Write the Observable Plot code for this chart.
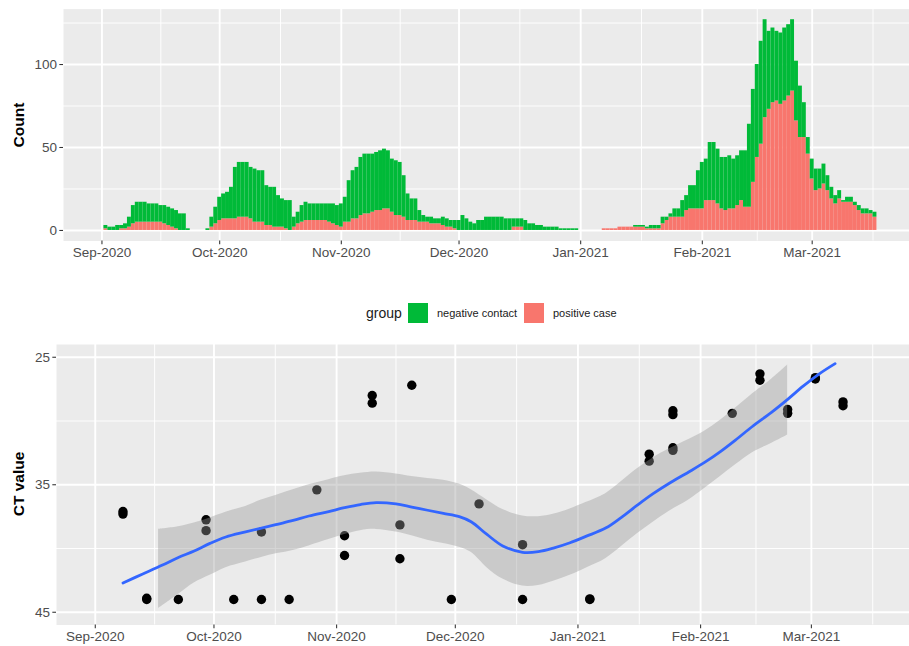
<!DOCTYPE html>
<html>
<head>
<meta charset="utf-8">
<script src="https://cdn.jsdelivr.net/npm/d3@7"></script>
<script src="https://cdn.jsdelivr.net/npm/@observablehq/plot@0.6"></script>
<style>
  body { margin: 0; background: #fff; font-family: "Liberation Sans", Arial, sans-serif; }
  #wrap { position: relative; width: 909px; height: 646px; overflow: hidden; background: #fff; }
  #top, #bottom { position: absolute; left: 0; }
  #top { top: 0; }
  #bottom { top: 290px; }
  .ytitle { position: absolute; font-weight: bold; font-size: 15.5px; color: #000;
            transform: translate(-50%, -50%) rotate(-90deg); white-space: nowrap; }
  .lgtext { position: absolute; top: 303px; height: 20px; line-height: 20px; color: #1a1a1a; white-space: nowrap; }
  .lgkey { position: absolute; top: 303px; width: 20px; height: 20px; }
</style>
</head>
<body>
<div id="wrap">
  <div id="top"></div>
  <div id="bottom"></div>
  <div class="ytitle" style="left:19px; top:125px;">Count</div>
  <div class="ytitle" style="left:19px; top:484px;">CT value</div>
  <div class="lgtext" style="left:366px; font-size:14px;">group</div>
  <div class="lgkey" id="key0" style="left:408px;"></div>
  <div class="lgtext" id="lab0" style="left:437px; font-size:11px;"></div>
  <div class="lgkey" id="key1" style="left:524px;"></div>
  <div class="lgtext" id="lab1" style="left:553px; font-size:11px;"></div>
</div>
<script>
// ---------- data: daily counts (Sep 2, 2020 .. Mar 17, 2021) ----------
const barStart = "2020-09-02";
const positiveCase = [
  // Sep 2-30
  1,0,0,0,1,1,2,4,5,5,5,5,5,5,5,4,3,2,1,0,0,0,0,0,0,0,0,2,4,
  // Oct
  6,7,7,7,7,8,8,8,7,5,5,5,3,3,2,2,2,1,0,2,4,5,6,6,6,6,6,6,5,4,3,
  // Nov
  2,5,5,7,7,9,10,10,11,12,12,13,13,11,9,9,8,6,6,6,5,5,5,4,4,4,3,2,2,1,
  // Dec
  0,0,0,0,0,0,0,0,0,0,0,0,0,0,2,2,2,0,0,0,0,0,0,0,0,0,0,0,0,0,0,
  // Jan
  0,0,0,0,0,0,1,1,1,1,2,2,2,2,2,2,2,1,1,1,1,4,6,8,8,8,8,12,13,13,13,
  // Feb
  13,18,18,18,16,13,12,13,13,15,18,14,14,29,44,52,68,73,77,78,76,78,81,84,66,56,56,46,
  // Mar 1-17
  31,24,25,28,24,19,16,19,17,17,17,15,12,10,10,10,8
];
const negativeContact = [
  // Sep 2-30
  2,2,2,3,2,3,6,11,12,12,12,11,11,11,10,11,11,11,11,10,10,1,0,0,0,0,1,6,10,
  // Oct
  14,15,16,19,31,33,33,33,31,32,31,31,24,23,24,19,17,17,18,6,7,10,11,10,10,10,10,10,11,12,12,
  // Nov
  14,15,25,29,31,35,36,36,35,35,36,36,35,32,33,32,25,16,13,13,7,4,3,4,3,3,5,5,4,5,
  // Dec
  6,9,7,5,4,6,6,8,8,8,8,8,7,7,5,5,5,6,4,4,3,3,2,2,2,2,1,1,1,1,1,
  // Jan
  0,0,0,0,0,0,0,0,0,0,0,0,0,0,1,1,1,1,2,2,2,4,2,2,5,5,10,9,14,14,23,
  // Feb
  28,25,35,35,33,31,32,32,30,30,30,34,50,56,56,62,59,47,45,42,43,44,43,43,36,31,21,10,
  // Mar 1-17
  12,13,12,12,9,7,5,5,1,3,3,2,3,3,3,2,3
];
const groups = ["negative contact", "positive case"];
const groupColors = ["#00BA38", "#F8766D"];

// ---------- data: CT values ----------
const ctDates = ["2020-09-08","2020-09-08","2020-09-14","2020-09-14","2020-09-22","2020-09-29","2020-09-29",
  "2020-10-06","2020-10-13","2020-10-13","2020-10-20","2020-10-27","2020-11-03","2020-11-03","2020-11-10",
  "2020-11-10","2020-11-17","2020-11-17","2020-11-20","2020-11-30","2020-12-07","2020-12-18","2020-12-18",
  "2021-01-04","2021-01-04","2021-01-19","2021-01-19","2021-01-25","2021-01-25","2021-01-25","2021-01-25",
  "2021-02-09","2021-02-16","2021-02-16","2021-02-23","2021-02-23","2021-03-02","2021-03-02","2021-03-09","2021-03-09"];
const ctValues = [37.1,37.3,43.9,44.0,44.0,37.75,38.6,
  44.0,44.0,38.7,44.0,35.4,39.0,40.55,28.0,
  28.6,38.15,40.8,27.2,44.0,36.5,39.7,44.0,
  44.0,43.95,32.6,33.15,29.2,29.5,32.1,32.3,
  29.4,26.3,26.8,29.1,29.4,26.6,26.7,28.5,28.8];

// smooth fit
const fitDates = ["2020-09-08","2020-09-13","2020-09-18","2020-09-22","2020-09-26","2020-09-30","2020-10-04",
  "2020-10-09","2020-10-13","2020-10-17","2020-10-21","2020-10-25","2020-10-30","2020-11-03","2020-11-07",
  "2020-11-11","2020-11-16","2020-11-20","2020-11-24","2020-11-28","2020-12-02","2020-12-05","2020-12-09",
  "2020-12-13","2020-12-18","2020-12-22","2020-12-26","2020-12-30","2021-01-03","2021-01-08","2021-01-12",
  "2021-01-16","2021-01-20","2021-01-24","2021-01-29","2021-02-02","2021-02-06","2021-02-10","2021-02-14",
  "2021-02-19","2021-02-23","2021-02-27","2021-03-03","2021-03-07"];
const fitValues = [42.7,42.0,41.3,40.7,40.2,39.6,39.1,
  38.7,38.4,38.1,37.8,37.45,37.1,36.8,36.55,
  36.4,36.5,36.75,37.0,37.25,37.5,37.9,38.9,
  39.8,40.3,40.25,39.95,39.55,39.05,38.4,37.55,
  36.6,35.7,34.9,34.0,33.25,32.4,31.45,30.45,
  29.3,28.3,27.25,26.3,25.5];
const bandDates = ["2020-09-17","2020-09-22","2020-09-26","2020-09-30","2020-10-04","2020-10-09","2020-10-13",
  "2020-10-17","2020-10-21","2020-10-25","2020-10-30","2020-11-03","2020-11-07","2020-11-11","2020-11-16",
  "2020-11-20","2020-11-24","2020-11-28","2020-12-02","2020-12-05","2020-12-09","2020-12-13","2020-12-18",
  "2020-12-22","2020-12-26","2020-12-30","2021-01-03","2021-01-08","2021-01-12","2021-01-16","2021-01-20",
  "2021-01-24","2021-01-29","2021-02-02","2021-02-06","2021-02-10","2021-02-14","2021-02-19","2021-02-23"];
const bandUpper = [38.5,38.3,38.0,37.6,37.15,36.7,36.2,
  35.8,35.4,35.0,34.6,34.3,34.1,34.0,34.15,
  34.35,34.5,34.65,34.95,35.4,36.2,36.95,37.45,
  37.5,37.3,36.9,36.4,35.7,34.75,33.75,32.9,
  32.2,31.45,30.8,29.95,28.95,27.9,26.7,25.6];
const bandLower = [44.7,43.6,42.7,42.1,41.5,41.05,40.7,
  40.4,40.15,39.8,39.3,38.9,38.6,38.5,38.7,
  39.0,39.35,39.6,39.9,40.3,41.5,42.4,42.95,
  42.9,42.55,42.1,41.55,40.8,39.85,38.85,37.95,
  37.1,36.2,35.3,34.35,33.4,32.5,31.75,31.1];

// ---------- ticks / scales ----------
const monthTicks = ["2020-09-01","2020-10-01","2020-11-01","2020-12-01","2021-01-01","2021-02-01","2021-03-01"];
const minorMonthTicks = ["2020-09-16T00:00Z","2020-10-16T12:00Z","2020-11-16T00:00Z","2020-12-16T12:00Z",
  "2021-01-16T12:00Z","2021-02-15T00:00Z","2021-03-16T12:00Z"];
const countTicks = [0, 50, 100];
const countMinorTicks = [25, 75, 125];
const ctTicks = [25, 35, 45];
const ctMinorTicks = [30, 40];
const xDomainStr = ["2020-08-22T04:48Z", "2021-03-25T19:12Z"];

// ---------- build tables ----------
const DAY = 864e5;
const t0 = new Date(barStart);
const bars = [];
[["positive case", positiveCase], ["negative contact", negativeContact]].forEach(([g, arr]) => {
  arr.forEach((v, i) => {
    const d = +t0 + i * DAY;
    bars.push({x1: new Date(d - DAY / 2), x2: new Date(d + DAY / 2), group: g, count: v});
  });
});
const points = ctDates.map((d, i) => ({date: new Date(d), ct: ctValues[i]}));
const fit = fitDates.map((d, i) => ({date: new Date(d), ct: fitValues[i]}));
const band = bandDates.map((d, i) => ({date: new Date(d), lo: bandUpper[i], hi: bandLower[i]}));
const months = monthTicks.map(s => new Date(s));
const minorMonths = minorMonthTicks.map(s => new Date(s));
const xDomain = xDomainStr.map(s => new Date(s));

const font = '"Liberation Sans", Arial, sans-serif';
const axisStyle = {tickSize: 3.67, tickPadding: 2.9, stroke: "#333333", strokeWidth: 1.07, fill: "#4D4D4D", fontSize: 13.5};

const topPlot = Plot.plot({
  width: 909, height: 290,
  marginTop: 8.6, marginBottom: 49.5, marginLeft: 63, marginRight: 0,
  style: {fontFamily: font, background: "transparent", overflow: "visible"},
  x: {type: "utc", domain: xDomain},
  y: {domain: [-6.35, 133.4]},
  color: {domain: groups, range: groupColors},
  marks: [
    Plot.frame({fill: "#EBEBEB", stroke: "none"}),
    Plot.ruleY(countMinorTicks, {stroke: "white", strokeWidth: 0.95}),
    Plot.ruleX(minorMonths, {stroke: "white", strokeWidth: 0.95}),
    Plot.ruleY(countTicks, {stroke: "white", strokeWidth: 1.9}),
    Plot.ruleX(months, {stroke: "white", strokeWidth: 1.9}),
    Plot.rectY(bars, Plot.stackY({x1: "x1", x2: "x2", y: "count", fill: "group"})),
    Plot.axisX({ticks: months, tickFormat: d3.utcFormat("%b-%Y"), label: null, ...axisStyle}),
    Plot.axisY({ticks: countTicks, label: null, ...axisStyle})
  ]
});
document.getElementById("top").appendChild(topPlot);

const bottomPlot = Plot.plot({
  width: 909, height: 356,
  marginTop: 54, marginBottom: 21.5, marginLeft: 56, marginRight: 0,
  style: {fontFamily: font, background: "transparent", overflow: "visible"},
  x: {type: "utc", domain: xDomain},
  y: {domain: [24, 46], reverse: true},
  marks: [
    Plot.frame({fill: "#EBEBEB", stroke: "none"}),
    Plot.ruleY(ctMinorTicks, {stroke: "white", strokeWidth: 0.95}),
    Plot.ruleX(minorMonths, {stroke: "white", strokeWidth: 0.95}),
    Plot.ruleY(ctTicks, {stroke: "white", strokeWidth: 1.9}),
    Plot.ruleX(months, {stroke: "white", strokeWidth: 1.9}),
    Plot.dot(points, {x: "date", y: "ct", r: 4.7, fill: "black", stroke: "none"}),
    Plot.areaY(band, {x: "date", y1: "lo", y2: "hi", fill: "#999999", fillOpacity: 0.4, curve: "catmull-rom"}),
    Plot.line(fit, {x: "date", y: "ct", stroke: "#3366FF", strokeWidth: 2.8, curve: "catmull-rom"}),
    Plot.axisX({ticks: months, tickFormat: d3.utcFormat("%b-%Y"), label: null, ...axisStyle}),
    Plot.axisY({ticks: ctTicks, label: null, ...axisStyle})
  ]
});
document.getElementById("bottom").appendChild(bottomPlot);

// legend
groups.forEach((g, i) => {
  document.getElementById("key" + i).style.background = groupColors[i];
  document.getElementById("lab" + i).textContent = g;
});
</script>
</body>
</html>
